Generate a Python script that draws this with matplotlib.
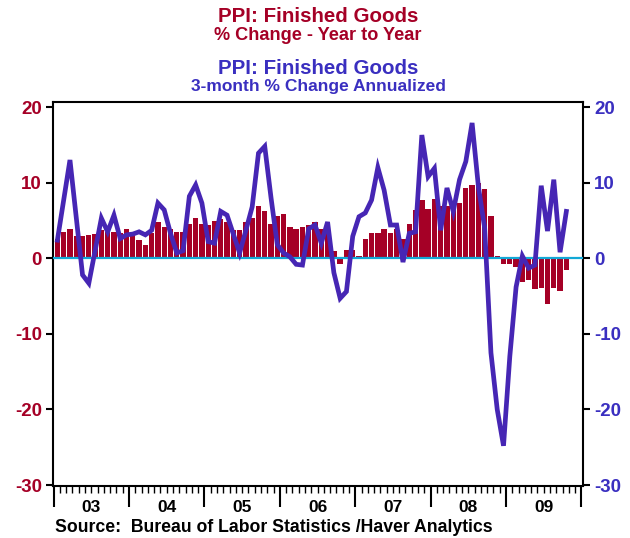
import matplotlib
matplotlib.use('Agg')
import matplotlib.pyplot as plt
import matplotlib.transforms as mtransforms
from matplotlib import font_manager
import numpy as np

# ---------------- data (monthly, Jan 2003 .. Oct 2009) ----------------
yoy_2003 = [2.5, 3.5, 3.9, 2.9, 2.9, 3.1, 3.2, 3.7, 3.5, 3.5, 3.4, 3.9]
yoy_2004 = [3.5, 2.4, 1.8, 3.3, 4.8, 4.1, 3.9, 3.5, 3.5, 4.5, 5.3, 4.5]
yoy_2005 = [4.4, 4.9, 5.2, 4.8, 3.7, 3.7, 4.8, 5.3, 6.9, 6.3, 4.5, 5.6]
yoy_2006 = [5.9, 4.1, 3.9, 4.1, 4.4, 4.8, 3.9, 3.7, 1.0, -0.7, 1.1, 1.1]
yoy_2007 = [0.35, 2.55, 3.3, 3.3, 3.9, 3.3, 3.9, 2.55, 4.5, 6.4, 7.7, 6.5]
yoy_2008 = [7.9, 6.9, 6.9, 7.0, 7.3, 9.3, 9.7, 9.9, 9.1, 5.6, 0.35, -0.8]
yoy_2009 = [-0.8, -1.2, -3.1, -2.9, -4.0, -3.9, -6.0, -3.9, -4.3, -1.6]

ann_2003 = [2.4, 7.7, 13.0, 5.4, -2.2, -3.3, 1.0, 5.3, 3.5, 5.7, 2.6, 3.1]
ann_2004 = [3.2, 3.5, 3.1, 3.7, 7.3, 6.4, 3.3, 0.7, 1.0, 8.2, 9.7, 7.3]
ann_2005 = [2.2, 2.0, 6.2, 5.7, 3.2, 0.7, 3.7, 6.8, 13.9, 14.8, 8.0, 1.8]
ann_2006 = [0.7, 0.2, -0.8, -0.9, 3.9, 4.4, 2.0, 4.8, -1.9, -5.3, -4.4, 2.9]
ann_2007 = [5.5, 6.0, 7.7, 12.0, 9.0, 4.4, 4.4, -0.5, 3.3, 3.5, 16.3, 10.8]
ann_2008 = [11.9, 3.7, 9.3, 6.2, 10.4, 12.8, 17.9, 9.5, 4.0, -12.5, -20.0, -24.8]
ann_2009 = [-13.0, -3.8, 0.3, -1.3, -0.9, 9.6, 3.6, 10.4, 0.8, 6.2]

year_labels = ['03', '04', '05', '06', '07', '08', '09']
y_ticks = [20, 10, 0, -10, -20, -30]

yoy = np.array(yoy_2003 + yoy_2004 + yoy_2005 + yoy_2006 + yoy_2007 + yoy_2008 + yoy_2009)
ann = np.array(ann_2003 + ann_2004 + ann_2005 + ann_2006 + ann_2007 + ann_2008 + ann_2009)
month_idx = np.arange(len(yoy))

# ---------------- style ----------------
RED = '#A50026'
BLUE = '#3A2FC0'
LINE = '#4626B4'
CYAN = '#12A8D6'

names = {f.name for f in font_manager.fontManager.ttflist}
if 'Liberation Sans Narrow' in names:
    FAM = ['Liberation Sans Narrow', 'DejaVu Sans']
else:
    FAM = ['Liberation Sans', 'DejaVu Sans']
plt.rcParams['font.family'] = FAM

W, H = 630, 538
fig = plt.figure(figsize=(W / 100, H / 100), dpi=100)
L, R, T, B = 53, 583, 102, 486
ax = fig.add_axes([L / W, 1 - B / H, (R - L) / W, (B - T) / H])

x0 = 0.6
ax.bar(month_idx + x0, yoy, width=0.85, color=RED, zorder=2, linewidth=0)
ax.axhline(0, color=CYAN, lw=1.6, zorder=3)
ax.plot(month_idx + x0, ann, color=LINE, lw=3.4, zorder=4, solid_joinstyle='miter')

ax.set_xlim(-0.1, 84.25)
ax.set_ylim(-30.12, 20.67)

for s in ax.spines.values():
    s.set_linewidth(1.5)
    s.set_color('black')

ax.set_yticks(y_ticks)
ax.set_yticklabels([str(v) for v in y_ticks])
ax.tick_params(axis='y', which='major', direction='out', length=5, width=1.5,
               left=True, right=True, labelleft=True, labelright=False, pad=3)
for lab in ax.get_yticklabels():
    lab.set_color(RED)
    lab.set_fontweight('bold')
    lab.set_fontsize(13.5)

# right labels: twin axis with identical limits, coloured blue
ax2 = ax.twinx()
ax2.set_ylim(ax.get_ylim())
ax2.set_yticks(y_ticks)
ax2.set_yticklabels([str(v) for v in y_ticks])
ax2.tick_params(axis='y', direction='out', length=5, width=1.5, pad=3)
for lab in ax2.get_yticklabels():
    lab.set_color(BLUE)
    lab.set_fontweight('bold')
    lab.set_fontsize(13.5)
for s in ax2.spines.values():
    s.set_visible(False)

ax.set_xticks(np.arange(0, 85, 12))
ax.set_xticklabels([''] * 8)
ax.set_xticks(np.arange(0, 84, 1), minor=True)
ax.tick_params(axis='x', which='major', direction='out', length=15, width=1.5)
ax.tick_params(axis='x', which='minor', direction='out', length=5, width=1.0)

trans = mtransforms.blended_transform_factory(ax.transData, fig.transFigure)
for i, lab in enumerate(year_labels):
    ax.text(12 * i + 6, 1 - 507 / H, lab, transform=trans, ha='center', va='center',
            fontsize=12.5, fontweight='bold', color='black')

fig.canvas.draw()
rend = fig.canvas.get_renderer()


def put(txt, xc, yc, color, width, ha='center'):
    t = fig.text(xc / W, 1 - yc / H, txt, ha=ha, va='center', color=color,
                 fontweight='bold', fontsize=14)
    w = t.get_window_extent(rend).width
    t.set_fontsize(14 * width / w)
    return t


put('PPI: Finished Goods', 318, 17, RED, 201)
put('% Change - Year to Year', 318, 36, RED, 207)
put('PPI: Finished Goods', 318, 68, BLUE, 201)
put('3-month % Change Annualized', 318, 87, BLUE, 256)
put('Source:  Bureau of Labor Statistics /Haver Analytics', 55, 527.5, 'black', 439, ha='left')

fig.savefig('out.png', dpi=100)
